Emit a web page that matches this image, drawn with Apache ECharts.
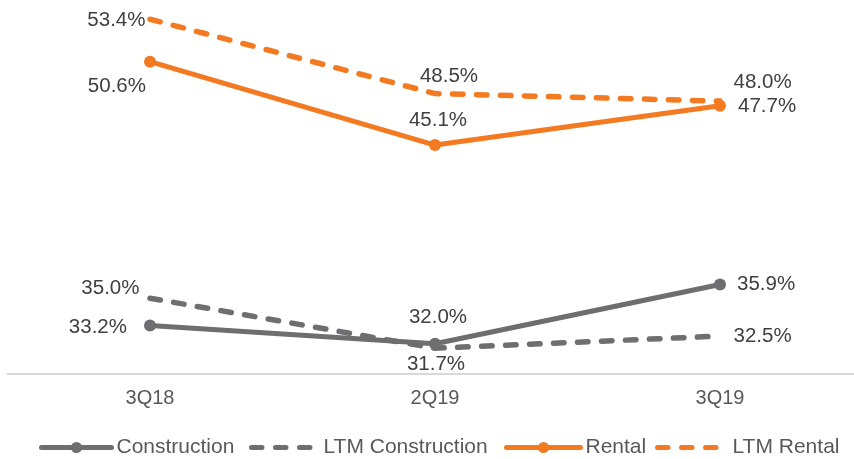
<!DOCTYPE html>
<html><head><meta charset="utf-8">
<script src="https://cdn.jsdelivr.net/npm/echarts@6/dist/echarts.min.js"></script>
<style>html,body{margin:0;padding:0;background:#fff}#c{width:854px;height:459px}</style>
</head><body><div id="c"></div>
<script>
// ---- data ----
const categories = ['3Q18', '2Q19', '3Q19'];
const construction = [33.2, 32.0, 35.9];
const ltmConstruction = [35.0, 31.7, 32.5];
const rental = [50.6, 45.1, 47.7];
const ltmRental = [53.4, 48.5, 48.0];
const seriesNames = ['Construction', 'LTM Construction', 'Rental', 'LTM Rental'];

// ---- label placement (style only) ----
const placeConstruction = [
  {position: 'left', distance: 17, offset: [0, 2]},
  {position: 'top', distance: 10, offset: [3, 0]},
  {position: 'right', distance: 11, offset: [0, 0]}
];
const placeLtmConstruction = [
  {position: 'left', distance: 10, offset: [0, -10]},
  {position: 'bottom', distance: 5, offset: [1, 0]},
  {position: 'right', distance: 13, offset: [0, 0]}
];
const placeRental = [
  {position: 'left', distance: -2, offset: [0, 25]},
  {position: 'top', distance: 8, offset: [3, 0]},
  {position: 'right', distance: 12, offset: [0, 1]}
];
const placeLtmRental = [
  {position: 'left', distance: 4, offset: [0, 1]},
  {position: 'top', distance: 6, offset: [14, 0]},
  {position: 'right', distance: 13, offset: [0, -19]}
];

const FONT = '"Liberation Sans", Arial, sans-serif';
const ORANGE = '#F37A21';
const GREY = '#6E6E70';
const LABEL_COLOR = '#404040';

function buildData(values, places) {
  return values.map((v, i) => ({
    value: v,
    label: Object.assign({show: true}, places[i])
  }));
}

function makeSeries(name, values, places, color, dashed) {
  return {
    name: name,
    type: 'line',
    data: buildData(values, places),
    symbol: 'circle',
    symbolSize: dashed ? 1 : 12,
    z: dashed ? 2 : 3,
    lineStyle: dashed
      ? {color: color, width: 5.5, type: [10.5, 13.5], cap: 'round'}
      : {color: color, width: 5, cap: 'round'},
    itemStyle: dashed
      ? {color: 'transparent', borderWidth: 0}
      : {color: color, borderWidth: 0},
    label: {
      show: true,
      formatter: p => p.value.toFixed(1) + '%',
      fontSize: 20.5,
      fontFamily: FONT,
      color: LABEL_COLOR
    },
    emphasis: {disabled: true}
  };
}

function makeLegend(name, left, width) {
  return {
    data: [name],
    left: left,
    top: 437,
    padding: 0,
    itemWidth: width,
    itemHeight: 14,
    selectedMode: false,
    textStyle: {fontSize: 21, fontFamily: FONT, color: '#595959'},
    lineStyle: {width: 5}
  };
}

const chart = echarts.init(document.getElementById('c'), null, {renderer: 'canvas'});
chart.setOption({
  animation: false,
  backgroundColor: '#ffffff',
  grid: {left: 7.5, right: -8.5, top: -5, bottom: 85, containLabel: false, outerBoundsMode: 'none'},
  legend: [
    makeLegend(seriesNames[0], 39, 70),
    makeLegend(seriesNames[1], 249, 67),
    makeLegend(seriesNames[2], 504, 74),
    makeLegend(seriesNames[3], 655, 70)
  ],
  xAxis: {
    type: 'category',
    data: categories,
    boundaryGap: true,
    axisLine: {show: true, lineStyle: {color: '#D9D9D9', width: 2}},
    axisTick: {show: false},
    axisLabel: {fontSize: 20, fontFamily: FONT, color: '#595959', margin: 14},
    splitLine: {show: false}
  },
  yAxis: {
    type: 'value',
    min: 30,
    max: 55,
    show: false,
    splitLine: {show: false}
  },
  series: [
    makeSeries(seriesNames[0], construction, placeConstruction, GREY, false),
    makeSeries(seriesNames[1], ltmConstruction, placeLtmConstruction, GREY, true),
    makeSeries(seriesNames[2], rental, placeRental, ORANGE, false),
    makeSeries(seriesNames[3], ltmRental, placeLtmRental, ORANGE, true)
  ]
});
</script>
</body></html>
